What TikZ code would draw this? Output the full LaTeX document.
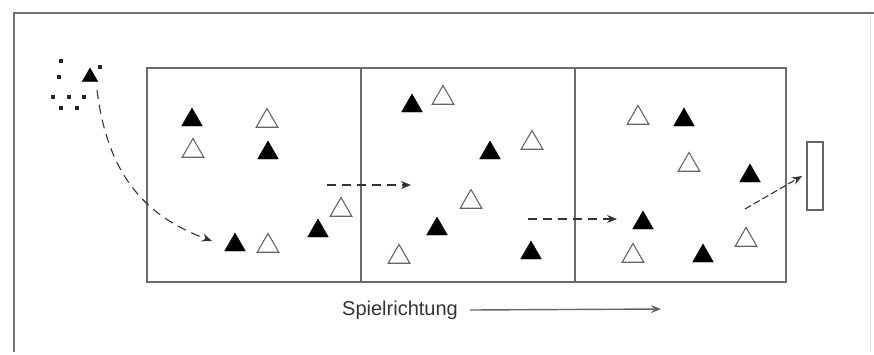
\documentclass[tikz,border=0pt]{standalone}
\usepackage{fontspec}
\setmainfont{Liberation Sans}
\usetikzlibrary{shapes.geometric,arrows.meta}
\begin{document}
\begin{tikzpicture}[x=1pt,y=-1pt,
  frameline/.style={draw=black!58,line width=1.8pt},
  attacker/.style={regular polygon,regular polygon sides=3,minimum size=24pt,
    inner sep=0pt,outer sep=0pt,fill=black,draw=black,line width=0.4pt},
  defender/.style={regular polygon,regular polygon sides=3,minimum size=25pt,
    inner sep=0pt,outer sep=0pt,draw=black!60,line width=1.1pt,fill=white},
  ball/.style={rectangle,fill=black!85,minimum size=4pt,inner sep=0pt},
  runpath/.style={draw=black!80,line width=1.1pt,dash pattern=on 9pt off 6pt,
    -{Stealth[length=10pt,width=8pt]}},
  direction/.style={draw=black!60,line width=1.4pt,-{Stealth[length=10pt,width=8pt,fill=black]}}]

\useasboundingbox (0,0) rectangle (874,354);

% outer frame
\draw[draw=black!55,line width=1.6pt] (14,352) -- (14,13) -- (874,13);
\draw[draw=black!12,line width=1pt] (870,14) -- (870,352);

% playing field with three zones
\draw[frameline] (147,68) rectangle (786,282);
\draw[frameline] (361,68) -- (361,282);
\draw[frameline] (575,68) -- (575,282);

% goal
\draw[draw=black!60,line width=1.3pt] (807,142) rectangle (823,210);

% starting group
\node[attacker,minimum size=18pt] (s0) at (90,77) {};
\node[ball] (d1) at (61,61) {};
\node[ball] (d2) at (59,77) {};
\node[ball] (d3) at (100,67) {};
\node[ball] (d4) at (53,97) {};
\node[ball] (d5) at (69,97) {};
\node[ball] (d6) at (84,97) {};
\node[ball] (d7) at (61,108) {};
\node[ball] (d8) at (77,108) {};

% zone 1
\node[attacker] (a1) at (192,120) {};
\node[defender] (w1) at (267,121) {};
\node[defender] (w2) at (193,151) {};
\node[attacker] (a2) at (268,153) {};
\node[attacker] (a3) at (235,245) {};
\node[defender] (w3) at (268,246) {};
\node[attacker] (a4) at (318,231) {};
\node[defender] (w4) at (341,210) {};

% zone 2
\node[attacker] (a5) at (412,106) {};
\node[defender] (w5) at (443,98) {};
\node[attacker] (a6) at (490,153) {};
\node[defender] (w6) at (532,143) {};
\node[defender] (w7) at (471,202) {};
\node[attacker] (a7) at (437,229) {};
\node[defender] (w8) at (399,257) {};
\node[attacker] (a8) at (531,253) {};

% zone 3
\node[defender] (w9) at (638,118) {};
\node[attacker] (a9) at (684,120) {};
\node[defender] (w10) at (689,165) {};
\node[attacker] (a10) at (750,176) {};
\node[attacker] (a11) at (643,223) {};
\node[defender] (w11) at (633,256) {};
\node[attacker] (a12) at (703,256) {};
\node[defender] (w12) at (746,240) {};

% paths of play
\coordinate (p0) at (97,90);
\coordinate (p1) at (212,241);
\draw[runpath] (p0) .. controls (108,180) and (150,218) .. (p1);
\coordinate (q0) at (327,185);
\coordinate (q1) at (411,185);
\draw[runpath] (q0) -- (q1);
\coordinate (r0) at (528,219);
\coordinate (r1) at (617,219);
\draw[runpath] (r0) -- (r1);
\coordinate (g0) at (745,209);
\coordinate (g1) at (802,176);
\draw[runpath,dash pattern=on 7pt off 3pt] (g0) -- (g1);

% direction of play
\node[anchor=west,font=\fontsize{20}{24}\selectfont,text=black!80,inner sep=0pt]
  (lbl) at (342,310) {Spielrichtung};
\coordinate (dir) at (661,309);
\draw[direction] ([xshift=12pt]lbl.east) -- (dir);
\end{tikzpicture}
\end{document}
